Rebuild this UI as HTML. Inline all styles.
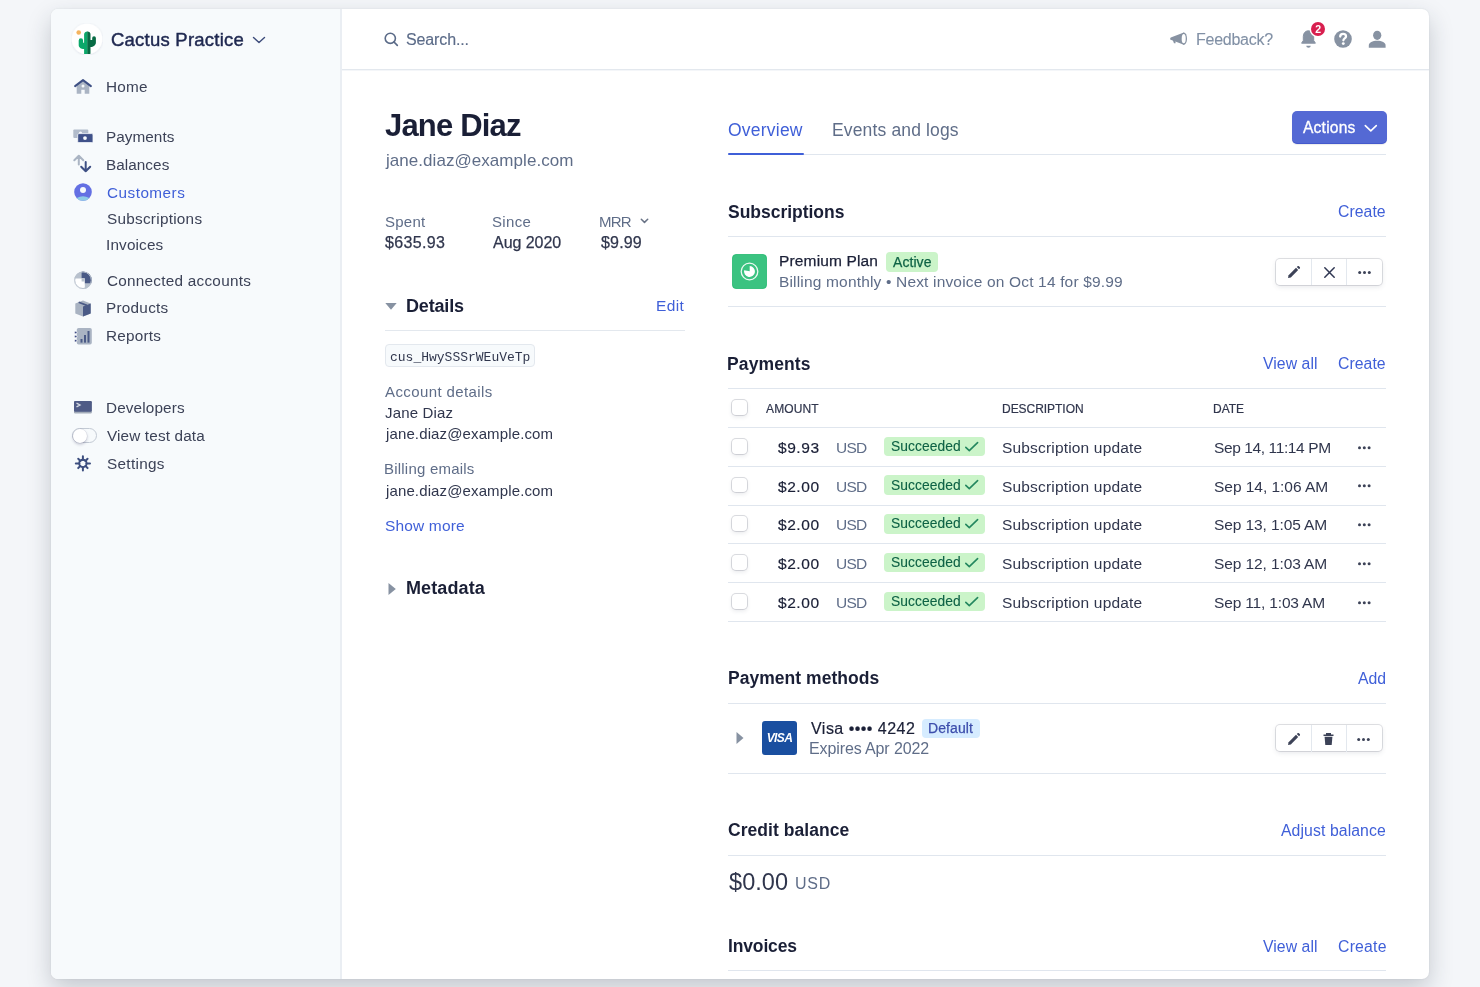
<!DOCTYPE html>
<html><head><meta charset="utf-8"><title>Jane Diaz</title>
<style>
html,body{margin:0;padding:0;}
body{width:1480px;height:987px;overflow:hidden;position:relative;background:#f4f6f9;font-family:"Liberation Sans",sans-serif;}
.t{position:absolute;white-space:nowrap;will-change:transform;}
.a{position:absolute;}
</style></head><body>
<!-- window -->
<div class=a style="left:51px;top:9px;width:1378px;height:970px;border-radius:7px;background:#fff;box-shadow:0 10px 24px rgba(30,40,60,0.22),0 0 2px rgba(30,40,60,0.1);overflow:hidden;">
  <div class=a style="left:0;top:0;width:289px;height:970px;background:#f7fafc;border-right:2px solid #eaeef3;"></div>
  <div class=a style="left:291px;top:60px;width:1087px;height:1px;background:#e3e8ee;"></div>
  <div class=a style="left:291px;top:61px;width:1087px;height:1px;background:#f4f6f9;"></div>
</div>

<!-- logo -->
<svg class=a style="left:71px;top:23px" width="32" height="32" viewBox="0 0 32 32">
  <defs><filter id="ls" x="-20%" y="-20%" width="140%" height="140%"><feDropShadow dx="0" dy="0.5" stdDeviation="0.8" flood-color="#32325d" flood-opacity="0.12"/></filter>
  <clipPath id="lc"><circle cx="16" cy="16" r="15.3"/></clipPath></defs>
  <circle cx="16" cy="16" r="15.3" fill="#fff" filter="url(#ls)"/>
  <g clip-path="url(#lc)">
  <circle cx="7.7" cy="9.5" r="2.3" fill="#f5b45f"/>
  <path d="M7.7 17.4 A2.2 2.2 0 0 1 12.1 17.4 V19.8 H13.1 V11.6 A3.2 3.2 0 0 1 16.6 8.4 V31 H13.1 V26 C10 26 7.7 24.5 7.7 22 Z" fill="#0ba86a"/>
  <path d="M16.3 8.4 A3.2 3.2 0 0 1 19.5 11.6 V16.9 H21.2 V15 A1.85 1.85 0 0 1 24.9 15 V19.5 C24.9 22 22.5 24 19.5 24 V31 H16.3 Z" fill="#086b44"/>
  </g>
</svg>
<!-- chevron -->
<svg class=a style="left:252px;top:35px" width="14" height="10" viewBox="0 0 14 10"><path d="M1.5 2.5 L7 7.5 L12.5 2.5" fill="none" stroke="#3c4b7a" stroke-width="1.4" stroke-linecap="round" stroke-linejoin="round"/></svg>

<!-- sidebar icons -->
<svg class=a style="left:73px;top:78px" width="20" height="18" viewBox="0 0 20 18">
  <path d="M3.7 7 L10 2.3 L16.3 7 V15.8 H11.7 V11.8 H8.3 V15.8 H3.7 Z" fill="#aab4c3"/>
  <path d="M2.1 8.1 L10 2.1 L17.9 8.1" fill="none" stroke="#3e5084" stroke-width="2" stroke-linecap="round" stroke-linejoin="round"/>
  <circle cx="10" cy="7.9" r="1.5" fill="#f7fafc"/>
</svg>
<svg class=a style="left:72px;top:128px" width="22" height="16" viewBox="0 0 22 16">
  <rect x="1.3" y="1.5" width="15" height="8.5" rx="1" fill="#b2bccb"/>
  <circle cx="8.5" cy="5" r="1.6" fill="#f7fafc"/>
  <rect x="5.7" y="5.6" width="15.3" height="9" rx="1.2" fill="#3f5189" stroke="#f7fafc" stroke-width="0.8"/>
  <circle cx="13" cy="10.1" r="1.9" fill="#f7fafc"/>
</svg>
<svg class=a style="left:72px;top:153px" width="22" height="21" viewBox="0 0 22 21">
  <path d="M6.8 11.5 V3 M2.3 7.3 L6.8 2.8 L11.3 7.3" fill="none" stroke="#aab4c3" stroke-width="2" stroke-linecap="round" stroke-linejoin="round"/>
  <path d="M13.7 9 V18.3 M9.2 13.8 L13.7 18.3 L18.2 13.8" fill="none" stroke="#3e5084" stroke-width="2" stroke-linecap="round" stroke-linejoin="round"/>
</svg>
<svg class=a style="left:73px;top:182px" width="20" height="20" viewBox="0 0 20 20">
  <defs><clipPath id="cc"><circle cx="10" cy="10" r="8.8"/></clipPath></defs>
  <circle cx="10" cy="10" r="8.8" fill="#6470e3"/>
  <g clip-path="url(#cc)"><ellipse cx="10" cy="19.5" rx="8" ry="5.2" fill="#8fcbe6"/></g>
  <circle cx="10" cy="8" r="3" fill="#f7fafc"/>
</svg>
<svg class=a style="left:73px;top:271px" width="20" height="20" viewBox="0 0 20 20">
  <defs><clipPath id="ca"><circle cx="10" cy="9.2" r="8.8"/></clipPath></defs>
  <circle cx="10" cy="9.2" r="8.8" fill="#b8c1cd"/>
  <g clip-path="url(#ca)">
    <path d="M8.6 0 H20 V12.2 H11.6 V7.2 H8.6 Z" fill="#4a5a86"/>
    <path d="M-1 7.6 H11.6 V9.8 C11.6 13.5 12.5 15.5 11 20 H-1 Z" fill="#fff"/>
    <path d="M8.6 7.2 H11.6 V10.5 H8.6 Z" fill="#b8c1cd"/>
  </g>
  <circle cx="10" cy="9.2" r="8.3" fill="none" stroke="#b8c1cd" stroke-width="1"/>
</svg>
<svg class=a style="left:74px;top:299px" width="18" height="19" viewBox="0 0 18 19">
  <path d="M1.3 4.5 L9 1.5 L16.7 4.5 V14.5 L9 17.5 L1.3 14.5 Z" fill="#a9b3c2"/>
  <path d="M9 7.5 L16.7 4.5 V14.5 L9 17.5 Z" fill="#4a5a86"/>
  <path d="M4.7 3.2 L12.3 6.1 V8" fill="none" stroke="#4a5a86" stroke-width="1.7"/>
</svg>
<svg class=a style="left:73px;top:327px" width="20" height="19" viewBox="0 0 20 19">
  <rect x="3.8" y="1" width="15" height="16.6" rx="1.8" fill="#aab4c3"/>
  <circle cx="2.7" cy="5.5" r="1.3" fill="#3e4c85" stroke="#fff" stroke-width="0.7"/>
  <circle cx="2.7" cy="9.5" r="1.3" fill="#3e4c85" stroke="#fff" stroke-width="0.7"/>
  <circle cx="2.7" cy="13.7" r="1.3" fill="#3e4c85" stroke="#fff" stroke-width="0.7"/>
  <rect x="7.5" y="12" width="2" height="3.6" fill="#4a5a86"/>
  <rect x="11" y="8" width="2" height="7.6" fill="#4a5a86"/>
  <rect x="14.5" y="4" width="2" height="11.6" fill="#4a5a86"/>
</svg>
<svg class=a style="left:73px;top:400px" width="20" height="15" viewBox="0 0 20 15">
  <rect x="1" y="1" width="17.8" height="12.5" rx="1.2" fill="#a3acb9"/>
  <rect x="1" y="1" width="17.8" height="10.8" rx="1.2" fill="#4f5b86"/>
  <path d="M3.5 3.2 L7 5 L3.5 6.8" fill="none" stroke="#d5dae3" stroke-width="1.3"/>
</svg>
<div class=a style="left:72px;top:428px;width:23px;height:13px;border-radius:8px;border:1px solid #c3cad4;background:#f7fafc;"></div>
<div class=a style="left:72.5px;top:428.5px;width:14px;height:14px;border-radius:50%;background:#fff;box-shadow:0 1.5px 3px rgba(50,50,93,0.28),0 0 0 0.5px rgba(50,50,93,0.12);"></div>
<svg class=a style="left:73px;top:454px" width="20" height="19" viewBox="0 0 20 19">
  <path d="M13.40 9.40 L17.00 9.40 M12.37 11.87 L14.57 14.07 M9.90 12.90 L9.90 16.50 M7.43 11.87 L5.23 14.07 M6.40 9.40 L2.80 9.40 M7.43 6.93 L5.23 4.73 M9.90 5.90 L9.90 2.30 M12.37 6.93 L14.57 4.73 " stroke="#3d4e7f" stroke-width="2" stroke-linecap="round"/>
  <circle cx="9.9" cy="9.4" r="3.7" fill="none" stroke="#3d4e7f" stroke-width="1.9"/>
</svg>

<!-- header icons -->
<svg class=a style="left:383px;top:31px" width="16" height="16" viewBox="0 0 16 16">
  <circle cx="7.3" cy="7.3" r="5.1" fill="none" stroke="#5b6b88" stroke-width="1.6"/>
  <path d="M11 11 L14.3 14.3" stroke="#5b6b88" stroke-width="1.7" stroke-linecap="round"/>
</svg>
<svg class=a style="left:1165px;top:27px" width="28" height="23" viewBox="0 0 28 23">
  <path d="M5.2 11.65 C5.2 10.9 5.7 10.5 6.4 10.3 L18.9 5.5 V17.8 L6.4 13 C5.7 12.8 5.2 12.4 5.2 11.65 Z" fill="#8792a2"/>
  <path d="M7.6 12.6 L9 16.2 H10.6 L10.4 13.4 Z" fill="#8792a2"/>
  <ellipse cx="18.9" cy="11.65" rx="3.1" ry="6.25" fill="#8792a2"/>
  <ellipse cx="18.7" cy="11.65" rx="2.0" ry="4.6" fill="#fff"/>
</svg>
<svg class=a style="left:1300px;top:29px" width="17" height="20" viewBox="0 0 17 20">
  <path d="M8.5 1.8 C5.2 1.8 3.3 4.4 3.3 7.5 V11.5 L1.6 14.2 H15.4 L13.7 11.5 V7.5 C13.7 4.4 11.8 1.8 8.5 1.8 Z" fill="#8792a2" stroke="#8792a2" stroke-width="1" stroke-linejoin="round"/>
  <path d="M6.3 16.8 H10.7 C10.7 18 9.8 18.7 8.5 18.7 C7.2 18.7 6.3 18 6.3 16.8 Z" fill="#8792a2"/>
</svg>
<div class=a style="left:1310.7px;top:21.9px;width:14.2px;height:14.2px;border-radius:50%;background:#d81f4f;box-shadow:0 0 0 1.5px #fff;"></div>
<div class=t style="left:1310.8px;top:23px;width:14.2px;text-align:center;font-size:10.5px;line-height:12px;font-weight:700;color:#fff;">2</div>
<svg class=a style="left:1333px;top:29px" width="20" height="20" viewBox="0 0 20 20">
  <circle cx="10" cy="10" r="8.8" fill="#8792a2"/>
  <path d="M7.2 7.6 C7.2 5.9 8.4 4.9 10.1 4.9 C11.8 4.9 13 5.9 13 7.4 C13 9.3 10.4 9.4 10.4 11.3" fill="none" stroke="#fff" stroke-width="2.3" stroke-linecap="round"/>
  <circle cx="10.3" cy="14.6" r="1.45" fill="#fff"/>
</svg>
<svg class=a style="left:1367px;top:29px" width="20" height="20" viewBox="0 0 20 20">
  <ellipse cx="10.2" cy="6.3" rx="4.1" ry="4.6" fill="#8792a2"/>
  <path d="M1.8 18.8 V16.4 C1.8 13.6 5.5 11.8 10.2 11.8 C14.9 11.8 18.6 13.6 18.6 16.4 V18.8 Z" fill="#8792a2"/>
</svg>

<!-- left column shapes -->
<svg class=a style="left:600px;top:215px" width="10" height="10" viewBox="0 0 10 10"></svg>
<svg class=a style="left:640px;top:217px" width="9" height="8" viewBox="0 0 9 8"><path d="M1.3 2.2 L4.5 5.4 L7.7 2.2" fill="none" stroke="#697386" stroke-width="1.5" stroke-linecap="round" stroke-linejoin="round"/></svg>
<svg class=a style="left:384px;top:302px" width="14" height="10" viewBox="0 0 14 10"><path d="M1.3 1 H12.7 L7 7.8 Z" fill="#8792a2"/></svg>
<div class=a style="left:385px;top:330px;width:300px;height:1px;background:#e3e8ee;"></div>
<div class=a style="left:385px;top:344px;width:148px;height:21px;border:1px solid #e3e8ee;border-radius:4px;background:#f7fafc;"></div>
<svg class=a style="left:387px;top:582px" width="10" height="14" viewBox="0 0 10 14"><path d="M1.5 1 V13 L8.8 7 Z" fill="#8792a2"/></svg>

<!-- tabs -->
<div class=a style="left:728px;top:154px;width:658px;height:1px;background:#e0e6ee;"></div>
<div class=a style="left:728px;top:153px;width:76px;height:2px;background:#3f5fd8;border-radius:1px;"></div>
<div class=a style="left:1292px;top:111px;width:95px;height:32.7px;border-radius:5px;background:#5469d4;box-shadow:inset 0 -1px 0 rgba(40,60,190,0.35),0 1px 1px rgba(0,0,0,0.08);"></div>
<svg class=a style="left:1362px;top:122px" width="17" height="12" viewBox="0 0 17 12"><path d="M3.3 3.6 L8.8 8.9 L14.3 3.6" fill="none" stroke="#fff" stroke-width="1.6" stroke-linecap="round" stroke-linejoin="round"/></svg>

<!-- subscriptions -->
<div class=a style="left:728px;top:236px;width:658px;height:1px;background:#e0e6ee;"></div>
<div class=a style="left:728px;top:306px;width:658px;height:1px;background:#e0e6ee;"></div>
<svg class=a style="left:732px;top:254px" width="35" height="35" viewBox="0 0 35 35">
  <rect x="0.5" y="0.5" width="34" height="34" rx="3.5" fill="#3bc381" stroke="#22b96e" stroke-width="0.8"/>
  <circle cx="17.5" cy="17.5" r="8.3" fill="none" stroke="#fff" stroke-opacity="0.9" stroke-width="1.3"/>
  <path d="M17.7 17.3 V12 A5.5 5.5 0 1 1 12.1 16.3 Z" fill="#fff"/>
</svg>
<div class=a style="left:886px;top:252px;width:52px;height:20px;border-radius:4px;background:#cbf4c9;"></div>

<div class=a style="left:1276px;top:258.7px;width:106px;height:26.5px;border-radius:4px;background:#fff;box-shadow:0 0 0 1px rgba(60,66,87,0.16),0 2px 5px rgba(60,66,87,0.12);"></div>
<div class=a style="left:1311px;top:258.7px;width:1px;height:26.5px;background:#e3e8ee;"></div>
<div class=a style="left:1346px;top:258.7px;width:1px;height:26.5px;background:#e3e8ee;"></div>
<svg class=a style="left:1285px;top:264px" width="17" height="17" viewBox="0 0 17 17">
  <path d="M3 14 L3.6 11.2 L11 3.8 L13.2 6 L5.8 13.4 Z" fill="#3c4257"/>
  <path d="M11.8 3 L12.6 2.2 C13 1.8 13.5 1.8 13.9 2.2 L14.8 3.1 C15.2 3.5 15.2 4 14.8 4.4 L14 5.2 Z" fill="#3c4257"/>
</svg>
<svg class=a style="left:1320.5px;top:264px" width="17" height="17" viewBox="0 0 17 17">
  <path d="M3.8 3.8 L13.2 13.2 M13.2 3.8 L3.8 13.2" stroke="#2f3652" stroke-width="1.5" stroke-linecap="round"/>
</svg>
<svg class=a style="left:1356px;top:264px" width="17" height="17" viewBox="0 0 17 17">
  <circle cx="3.7" cy="8.5" r="1.5" fill="#3c4257"/><circle cx="8.5" cy="8.5" r="1.5" fill="#3c4257"/><circle cx="13.3" cy="8.5" r="1.5" fill="#3c4257"/>
</svg>

<!-- payments -->
<div class=a style="left:728px;top:388px;width:658px;height:1px;background:#e0e6ee;"></div>
<div class=a style="left:728px;top:427px;width:658px;height:1px;background:#e0e6ee;"></div>
<div class=a style="left:728px;top:466px;width:658px;height:1px;background:#e0e6ee;"></div>
<div class=a style="left:728px;top:505px;width:658px;height:1px;background:#e0e6ee;"></div>
<div class=a style="left:728px;top:543px;width:658px;height:1px;background:#e0e6ee;"></div>
<div class=a style="left:728px;top:582px;width:658px;height:1px;background:#e0e6ee;"></div>
<div class=a style="left:728px;top:621px;width:658px;height:1px;background:#e0e6ee;"></div>

<!-- payment methods -->
<div class=a style="left:728px;top:703px;width:658px;height:1px;background:#e0e6ee;"></div>
<div class=a style="left:728px;top:773px;width:658px;height:1px;background:#e0e6ee;"></div>
<svg class=a style="left:735px;top:731px" width="10" height="14" viewBox="0 0 10 14"><path d="M1.5 1 V13 L8.5 7 Z" fill="#8792a2"/></svg>
<div class=a style="left:762px;top:721px;width:35px;height:34px;border-radius:3px;background:#1a4fa0;"></div>
<div class=t style="left:762px;top:731px;width:35px;text-align:center;font-size:12px;line-height:14px;font-weight:700;font-style:italic;color:#fff;letter-spacing:-0.6px;">VISA</div>
<div class=a style="left:921.5px;top:719px;width:58px;height:19px;border-radius:4px;background:#d6ecff;"></div>
<div class=a style="left:1276px;top:724.7px;width:106px;height:26.5px;border-radius:4px;background:#fff;box-shadow:0 0 0 1px rgba(60,66,87,0.16),0 2px 5px rgba(60,66,87,0.12);"></div>
<div class=a style="left:1311px;top:724.5px;width:1px;height:27px;background:#e3e8ee;"></div>
<div class=a style="left:1346px;top:724.5px;width:1px;height:27px;background:#e3e8ee;"></div>
<svg class=a style="left:1285px;top:730.5px" width="17" height="17" viewBox="0 0 17 17">
  <path d="M3 14 L3.6 11.2 L11 3.8 L13.2 6 L5.8 13.4 Z" fill="#3c4257"/>
  <path d="M11.8 3 L12.6 2.2 C13 1.8 13.5 1.8 13.9 2.2 L14.8 3.1 C15.2 3.5 15.2 4 14.8 4.4 L14 5.2 Z" fill="#3c4257"/>
</svg>
<svg class=a style="left:1320px;top:730.5px" width="17" height="17" viewBox="0 0 17 17">
  <path d="M3.5 4.3 H13.5 M6.8 4 V2.8 H10.2 V4" fill="none" stroke="#3c4257" stroke-width="1.6"/>
  <path d="M4.6 5.8 H12.4 L11.7 14 H5.3 Z" fill="#3c4257"/>
</svg>
<svg class=a style="left:1355px;top:730.5px" width="17" height="17" viewBox="0 0 17 17">
  <circle cx="3.7" cy="8.5" r="1.5" fill="#3c4257"/><circle cx="8.5" cy="8.5" r="1.5" fill="#3c4257"/><circle cx="13.3" cy="8.5" r="1.5" fill="#3c4257"/>
</svg>
<div class=a style="left:728px;top:855px;width:658px;height:1px;background:#e0e6ee;"></div>
<div class=a style="left:728px;top:970px;width:658px;height:1px;background:#e0e6ee;"></div>
<div class=a style="left:732px;top:399.80px;width:15.2px;height:14.8px;border-radius:4px;background:#fff;box-shadow:0 0 0 1px rgba(60,66,87,0.18),0 2px 4px rgba(60,66,87,0.12);"></div>
<div class=a style="left:732px;top:438.80px;width:15.2px;height:14.8px;border-radius:4px;background:#fff;box-shadow:0 0 0 1px rgba(60,66,87,0.18),0 2px 4px rgba(60,66,87,0.12);"></div>
<div class=a style="left:732px;top:477.60px;width:15.2px;height:14.8px;border-radius:4px;background:#fff;box-shadow:0 0 0 1px rgba(60,66,87,0.18),0 2px 4px rgba(60,66,87,0.12);"></div>
<div class=a style="left:732px;top:516.30px;width:15.2px;height:14.8px;border-radius:4px;background:#fff;box-shadow:0 0 0 1px rgba(60,66,87,0.18),0 2px 4px rgba(60,66,87,0.12);"></div>
<div class=a style="left:732px;top:555.10px;width:15.2px;height:14.8px;border-radius:4px;background:#fff;box-shadow:0 0 0 1px rgba(60,66,87,0.18),0 2px 4px rgba(60,66,87,0.12);"></div>
<div class=a style="left:732px;top:593.80px;width:15.2px;height:14.8px;border-radius:4px;background:#fff;box-shadow:0 0 0 1px rgba(60,66,87,0.18),0 2px 4px rgba(60,66,87,0.12);"></div>
<div class=a style="left:884px;top:436.70px;width:100.5px;height:19.4px;border-radius:4px;background:#cbf4c9;"></div>
<svg class=a style="left:963px;top:438.70px" width="17" height="15" viewBox="0 0 17 15"><path d="M2.8 8.3 L6.3 11.6 L14.6 3.6" fill="none" stroke="#24875f" stroke-width="1.6" stroke-linecap="round" stroke-linejoin="round"/></svg>
<svg class=a style="left:1356px;top:439.70px" width="17" height="15" viewBox="0 0 17 15"><circle cx="3.5" cy="7.8" r="1.5" fill="#3c4257"/><circle cx="8.3" cy="7.8" r="1.5" fill="#3c4257"/><circle cx="13.1" cy="7.8" r="1.5" fill="#3c4257"/></svg>
<div class=a style="left:884px;top:475.45px;width:100.5px;height:19.4px;border-radius:4px;background:#cbf4c9;"></div>
<svg class=a style="left:963px;top:477.45px" width="17" height="15" viewBox="0 0 17 15"><path d="M2.8 8.3 L6.3 11.6 L14.6 3.6" fill="none" stroke="#24875f" stroke-width="1.6" stroke-linecap="round" stroke-linejoin="round"/></svg>
<svg class=a style="left:1356px;top:478.45px" width="17" height="15" viewBox="0 0 17 15"><circle cx="3.5" cy="7.8" r="1.5" fill="#3c4257"/><circle cx="8.3" cy="7.8" r="1.5" fill="#3c4257"/><circle cx="13.1" cy="7.8" r="1.5" fill="#3c4257"/></svg>
<div class=a style="left:884px;top:514.20px;width:100.5px;height:19.4px;border-radius:4px;background:#cbf4c9;"></div>
<svg class=a style="left:963px;top:516.20px" width="17" height="15" viewBox="0 0 17 15"><path d="M2.8 8.3 L6.3 11.6 L14.6 3.6" fill="none" stroke="#24875f" stroke-width="1.6" stroke-linecap="round" stroke-linejoin="round"/></svg>
<svg class=a style="left:1356px;top:517.20px" width="17" height="15" viewBox="0 0 17 15"><circle cx="3.5" cy="7.8" r="1.5" fill="#3c4257"/><circle cx="8.3" cy="7.8" r="1.5" fill="#3c4257"/><circle cx="13.1" cy="7.8" r="1.5" fill="#3c4257"/></svg>
<div class=a style="left:884px;top:552.95px;width:100.5px;height:19.4px;border-radius:4px;background:#cbf4c9;"></div>
<svg class=a style="left:963px;top:554.95px" width="17" height="15" viewBox="0 0 17 15"><path d="M2.8 8.3 L6.3 11.6 L14.6 3.6" fill="none" stroke="#24875f" stroke-width="1.6" stroke-linecap="round" stroke-linejoin="round"/></svg>
<svg class=a style="left:1356px;top:555.95px" width="17" height="15" viewBox="0 0 17 15"><circle cx="3.5" cy="7.8" r="1.5" fill="#3c4257"/><circle cx="8.3" cy="7.8" r="1.5" fill="#3c4257"/><circle cx="13.1" cy="7.8" r="1.5" fill="#3c4257"/></svg>
<div class=a style="left:884px;top:591.70px;width:100.5px;height:19.4px;border-radius:4px;background:#cbf4c9;"></div>
<svg class=a style="left:963px;top:593.70px" width="17" height="15" viewBox="0 0 17 15"><path d="M2.8 8.3 L6.3 11.6 L14.6 3.6" fill="none" stroke="#24875f" stroke-width="1.6" stroke-linecap="round" stroke-linejoin="round"/></svg>
<svg class=a style="left:1356px;top:594.70px" width="17" height="15" viewBox="0 0 17 15"><circle cx="3.5" cy="7.8" r="1.5" fill="#3c4257"/><circle cx="8.3" cy="7.8" r="1.5" fill="#3c4257"/><circle cx="13.1" cy="7.8" r="1.5" fill="#3c4257"/></svg>

<div class=t style="top:31.00px;left:111.05px;font-size:18.5px;line-height:18.5px;font-weight:400;color:#1f2850;letter-spacing:0.229px;-webkit-text-stroke:0.45px #1f2850;">Cactus Practice</div>
<div class=t style="top:79.00px;left:106.15px;font-size:15.3px;line-height:15.3px;font-weight:400;color:#3c4257;letter-spacing:0.200px;">Home</div>
<div class=t style="top:129.00px;left:106.15px;font-size:15.3px;line-height:15.3px;font-weight:400;color:#3c4257;letter-spacing:0.050px;">Payments</div>
<div class=t style="top:157.00px;left:106.15px;font-size:15.3px;line-height:15.3px;font-weight:400;color:#3c4257;letter-spacing:0.050px;">Balances</div>
<div class=t style="top:185.00px;left:106.65px;font-size:15.3px;line-height:15.3px;font-weight:400;color:#3f5fd8;letter-spacing:0.481px;">Customers</div>
<div class=t style="top:211.00px;left:106.90px;font-size:15.3px;line-height:15.3px;font-weight:400;color:#3c4257;letter-spacing:0.267px;">Subscriptions</div>
<div class=t style="top:237.00px;left:106.15px;font-size:15.3px;line-height:15.3px;font-weight:400;color:#3c4257;letter-spacing:0.157px;">Invoices</div>
<div class=t style="top:273.00px;left:106.65px;font-size:15.3px;line-height:15.3px;font-weight:400;color:#3c4257;letter-spacing:0.256px;">Connected accounts</div>
<div class=t style="top:300.00px;left:106.15px;font-size:15.3px;line-height:15.3px;font-weight:400;color:#3c4257;letter-spacing:0.264px;">Products</div>
<div class=t style="top:328.00px;left:106.15px;font-size:15.3px;line-height:15.3px;font-weight:400;color:#3c4257;letter-spacing:0.217px;">Reports</div>
<div class=t style="top:400.00px;left:106.15px;font-size:15.3px;line-height:15.3px;font-weight:400;color:#3c4257;letter-spacing:0.128px;">Developers</div>
<div class=t style="top:428.00px;left:107.40px;font-size:15.3px;line-height:15.3px;font-weight:400;color:#3c4257;letter-spacing:0.146px;">View test data</div>
<div class=t style="top:456.00px;left:106.90px;font-size:15.3px;line-height:15.3px;font-weight:400;color:#3c4257;letter-spacing:0.307px;">Settings</div>
<div class=t style="top:32.00px;left:405.85px;font-size:16px;line-height:16px;font-weight:400;color:#5b6b88;letter-spacing:-0.125px;-webkit-text-stroke:0.15px #5b6b88;">Search...</div>
<div class=t style="top:32.00px;left:1196.35px;font-size:16px;line-height:16px;font-weight:400;color:#8190a5;letter-spacing:-0.262px;-webkit-text-stroke:0.1px #8190a5;">Feedback?</div>
<div class=t style="top:110.00px;left:384.95px;font-size:31px;line-height:31px;font-weight:700;color:#1a1f36;letter-spacing:-0.819px;">Jane Diaz</div>
<div class=t style="top:152.00px;left:385.50px;font-size:17px;line-height:17px;font-weight:400;color:#5f6d88;letter-spacing:0.050px;">jane.diaz@example.com</div>
<div class=t style="top:214.00px;left:384.70px;font-size:15px;line-height:15px;font-weight:400;color:#5f6d88;letter-spacing:0.263px;">Spent</div>
<div class=t style="top:214.00px;left:492.10px;font-size:15px;line-height:15px;font-weight:400;color:#5f6d88;letter-spacing:0.350px;">Since</div>
<div class=t style="top:214.00px;left:599.00px;font-size:15px;line-height:15px;font-weight:400;color:#5f6d88;letter-spacing:-0.750px;">MRR</div>
<div class=t style="top:235.00px;left:385.20px;font-size:16px;line-height:16px;font-weight:400;color:#30364d;letter-spacing:0.358px;-webkit-text-stroke:0.25px #30364d;">$635.93</div>
<div class=t style="top:235.00px;left:492.60px;font-size:16px;line-height:16px;font-weight:400;color:#30364d;letter-spacing:-0.043px;-webkit-text-stroke:0.25px #30364d;">Aug 2020</div>
<div class=t style="top:235.00px;left:600.50px;font-size:16px;line-height:16px;font-weight:400;color:#30364d;letter-spacing:0.175px;-webkit-text-stroke:0.25px #30364d;">$9.99</div>
<div class=t style="top:297.00px;left:405.90px;font-size:18px;line-height:18px;font-weight:700;color:#1a1f36;letter-spacing:-0.167px;">Details</div>
<div class=t style="top:298.00px;left:656.45px;font-size:15.5px;line-height:15.5px;font-weight:400;color:#3f5fd8;letter-spacing:0.367px;">Edit</div>
<div class=t style="top:351.00px;left:390.15px;font-size:13px;line-height:13px;font-weight:400;color:#30364d;font-family:'Liberation Mono',monospace;">cus_HwySSSrWEuVeTp</div>
<div class=t style="top:384.00px;left:385.00px;font-size:15px;line-height:15px;font-weight:400;color:#5f6d88;letter-spacing:0.396px;">Account details</div>
<div class=t style="top:405.00px;left:384.75px;font-size:15px;line-height:15px;font-weight:400;color:#30364d;letter-spacing:0.156px;">Jane Diaz</div>
<div class=t style="top:426.00px;left:385.50px;font-size:15px;line-height:15px;font-weight:400;color:#30364d;letter-spacing:0.127px;">jane.diaz@example.com</div>
<div class=t style="top:461.00px;left:384.00px;font-size:15px;line-height:15px;font-weight:400;color:#5f6d88;letter-spacing:0.212px;">Billing emails</div>
<div class=t style="top:483.00px;left:385.50px;font-size:15px;line-height:15px;font-weight:400;color:#30364d;letter-spacing:0.127px;">jane.diaz@example.com</div>
<div class=t style="top:518.00px;left:384.50px;font-size:15.5px;line-height:15.5px;font-weight:400;color:#3f5fd8;letter-spacing:0.156px;">Show more</div>
<div class=t style="top:579.00px;left:406.00px;font-size:18px;line-height:18px;font-weight:700;color:#1a1f36;letter-spacing:0.107px;">Metadata</div>
<div class=t style="top:122.00px;left:727.65px;font-size:17.5px;line-height:17.5px;font-weight:400;color:#3f5fd8;letter-spacing:0.221px;">Overview</div>
<div class=t style="top:122.00px;left:832.15px;font-size:17.5px;line-height:17.5px;font-weight:400;color:#5f6d88;letter-spacing:0.146px;">Events and logs</div>
<div class=t style="top:120.00px;left:1303.00px;font-size:15.6px;line-height:15.6px;font-weight:400;color:#ffffff;letter-spacing:0.208px;-webkit-text-stroke:0.3px #ffffff;">Actions</div>
<div class=t style="top:204.00px;left:727.90px;font-size:17.5px;line-height:17.5px;font-weight:700;color:#1a1f36;letter-spacing:-0.025px;">Subscriptions</div>
<div class=t style="top:204.00px;left:1338.25px;font-size:15.8px;line-height:15.8px;font-weight:400;color:#3f5fd8;letter-spacing:0.040px;">Create</div>
<div class=t style="top:253.00px;left:778.95px;font-size:15.5px;line-height:15.5px;font-weight:400;color:#1a1f36;letter-spacing:0.150px;-webkit-text-stroke:0.25px #1a1f36;">Premium Plan</div>
<div class=t style="top:255.00px;left:893.20px;font-size:14px;line-height:14px;font-weight:400;color:#0e6245;letter-spacing:0.060px;-webkit-text-stroke:0.25px #0e6245;">Active</div>
<div class=t style="top:274.00px;left:778.95px;font-size:15.5px;line-height:15.5px;font-weight:400;color:#5f6d88;letter-spacing:0.169px;">Billing monthly • Next invoice on Oct 14 for $9.99</div>
<div class=t style="top:356.00px;left:727.20px;font-size:17.5px;line-height:17.5px;font-weight:700;color:#1a1f36;letter-spacing:0.114px;">Payments</div>
<div class=t style="top:356.00px;left:1263.20px;font-size:15.8px;line-height:15.8px;font-weight:400;color:#3f5fd8;letter-spacing:0.050px;">View all</div>
<div class=t style="top:356.00px;left:1338.35px;font-size:15.8px;line-height:15.8px;font-weight:400;color:#3f5fd8;letter-spacing:0.040px;">Create</div>
<div class=t style="top:403.00px;left:765.55px;font-size:12px;line-height:12px;font-weight:400;color:#30364d;letter-spacing:0.130px;-webkit-text-stroke:0.2px #30364d;">AMOUNT</div>
<div class=t style="top:403.00px;left:1001.55px;font-size:12px;line-height:12px;font-weight:400;color:#30364d;letter-spacing:-0.040px;-webkit-text-stroke:0.2px #30364d;">DESCRIPTION</div>
<div class=t style="top:403.00px;left:1213.25px;font-size:12px;line-height:12px;font-weight:400;color:#30364d;-webkit-text-stroke:0.2px #30364d;">DATE</div>
<div class=t style="top:440.00px;left:777.50px;font-size:15.5px;line-height:15.5px;font-weight:400;color:#1a1f36;letter-spacing:0.562px;-webkit-text-stroke:0.2px #1a1f36;">$9.93</div>
<div class=t style="top:440.00px;left:835.50px;font-size:15.5px;line-height:15.5px;font-weight:400;color:#5f6d88;letter-spacing:-0.800px;">USD</div>
<div class=t style="top:440.00px;left:890.70px;font-size:13.8px;line-height:13.8px;font-weight:400;color:#0e6245;letter-spacing:0.094px;-webkit-text-stroke:0.12px #0e6245;">Succeeded</div>
<div class=t style="top:440.00px;left:1002.00px;font-size:15.5px;line-height:15.5px;font-weight:400;color:#30364d;letter-spacing:0.172px;">Subscription update</div>
<div class=t style="top:440.00px;left:1213.50px;font-size:15.5px;line-height:15.5px;font-weight:400;color:#30364d;letter-spacing:-0.390px;">Sep 14, 11:14 PM</div>
<div class=t style="top:479.00px;left:777.50px;font-size:15.5px;line-height:15.5px;font-weight:400;color:#1a1f36;letter-spacing:0.562px;-webkit-text-stroke:0.2px #1a1f36;">$2.00</div>
<div class=t style="top:479.00px;left:835.50px;font-size:15.5px;line-height:15.5px;font-weight:400;color:#5f6d88;letter-spacing:-0.800px;">USD</div>
<div class=t style="top:479.00px;left:890.70px;font-size:13.8px;line-height:13.8px;font-weight:400;color:#0e6245;letter-spacing:0.094px;-webkit-text-stroke:0.12px #0e6245;">Succeeded</div>
<div class=t style="top:479.00px;left:1002.00px;font-size:15.5px;line-height:15.5px;font-weight:400;color:#30364d;letter-spacing:0.172px;">Subscription update</div>
<div class=t style="top:479.00px;left:1213.50px;font-size:15.5px;line-height:15.5px;font-weight:400;color:#30364d;letter-spacing:-0.036px;">Sep 14, 1:06 AM</div>
<div class=t style="top:517.00px;left:777.50px;font-size:15.5px;line-height:15.5px;font-weight:400;color:#1a1f36;letter-spacing:0.562px;-webkit-text-stroke:0.2px #1a1f36;">$2.00</div>
<div class=t style="top:517.00px;left:835.50px;font-size:15.5px;line-height:15.5px;font-weight:400;color:#5f6d88;letter-spacing:-0.800px;">USD</div>
<div class=t style="top:517.00px;left:890.70px;font-size:13.8px;line-height:13.8px;font-weight:400;color:#0e6245;letter-spacing:0.094px;-webkit-text-stroke:0.12px #0e6245;">Succeeded</div>
<div class=t style="top:517.00px;left:1002.00px;font-size:15.5px;line-height:15.5px;font-weight:400;color:#30364d;letter-spacing:0.172px;">Subscription update</div>
<div class=t style="top:517.00px;left:1213.50px;font-size:15.5px;line-height:15.5px;font-weight:400;color:#30364d;letter-spacing:-0.100px;">Sep 13, 1:05 AM</div>
<div class=t style="top:556.00px;left:777.50px;font-size:15.5px;line-height:15.5px;font-weight:400;color:#1a1f36;letter-spacing:0.562px;-webkit-text-stroke:0.2px #1a1f36;">$2.00</div>
<div class=t style="top:556.00px;left:835.50px;font-size:15.5px;line-height:15.5px;font-weight:400;color:#5f6d88;letter-spacing:-0.800px;">USD</div>
<div class=t style="top:556.00px;left:890.70px;font-size:13.8px;line-height:13.8px;font-weight:400;color:#0e6245;letter-spacing:0.094px;-webkit-text-stroke:0.12px #0e6245;">Succeeded</div>
<div class=t style="top:556.00px;left:1002.00px;font-size:15.5px;line-height:15.5px;font-weight:400;color:#30364d;letter-spacing:0.172px;">Subscription update</div>
<div class=t style="top:556.00px;left:1213.50px;font-size:15.5px;line-height:15.5px;font-weight:400;color:#30364d;letter-spacing:-0.100px;">Sep 12, 1:03 AM</div>
<div class=t style="top:595.00px;left:777.50px;font-size:15.5px;line-height:15.5px;font-weight:400;color:#1a1f36;letter-spacing:0.562px;-webkit-text-stroke:0.2px #1a1f36;">$2.00</div>
<div class=t style="top:595.00px;left:835.50px;font-size:15.5px;line-height:15.5px;font-weight:400;color:#5f6d88;letter-spacing:-0.800px;">USD</div>
<div class=t style="top:595.00px;left:890.70px;font-size:13.8px;line-height:13.8px;font-weight:400;color:#0e6245;letter-spacing:0.094px;-webkit-text-stroke:0.12px #0e6245;">Succeeded</div>
<div class=t style="top:595.00px;left:1002.00px;font-size:15.5px;line-height:15.5px;font-weight:400;color:#30364d;letter-spacing:0.172px;">Subscription update</div>
<div class=t style="top:595.00px;left:1213.50px;font-size:15.5px;line-height:15.5px;font-weight:400;color:#30364d;letter-spacing:-0.161px;">Sep 11, 1:03 AM</div>
<div class=t style="top:670.00px;left:727.80px;font-size:17.5px;line-height:17.5px;font-weight:700;color:#1a1f36;letter-spacing:0.036px;">Payment methods</div>
<div class=t style="top:671.00px;left:1358.20px;font-size:15.8px;line-height:15.8px;font-weight:400;color:#3f5fd8;letter-spacing:0.025px;">Add</div>
<div class=t style="top:721.00px;left:810.70px;font-size:16px;line-height:16px;font-weight:400;color:#1a1f36;letter-spacing:0.469px;-webkit-text-stroke:0.2px #1a1f36;">Visa •••• 4242</div>
<div class=t style="top:721.00px;left:928.00px;font-size:14px;line-height:14px;font-weight:400;color:#3d4eac;letter-spacing:0.083px;-webkit-text-stroke:0.25px #3d4eac;">Default</div>
<div class=t style="top:741.00px;left:809.45px;font-size:16px;line-height:16px;font-weight:400;color:#5f6d88;letter-spacing:-0.113px;">Expires Apr 2022</div>
<div class=t style="top:822.00px;left:728.30px;font-size:17.5px;line-height:17.5px;font-weight:700;color:#1a1f36;letter-spacing:0.054px;">Credit balance</div>
<div class=t style="top:823.00px;left:1281.40px;font-size:15.8px;line-height:15.8px;font-weight:400;color:#3f5fd8;letter-spacing:0.085px;">Adjust balance</div>
<div class=t style="top:871.00px;left:728.55px;font-size:23.5px;line-height:23.5px;font-weight:400;color:#30364d;letter-spacing:0.062px;">$0.00</div>
<div class=t style="top:876.00px;left:795.30px;font-size:16px;line-height:16px;font-weight:400;color:#5f6d88;letter-spacing:0.775px;">USD</div>
<div class=t style="top:938.00px;left:727.80px;font-size:17.5px;line-height:17.5px;font-weight:700;color:#1a1f36;letter-spacing:-0.143px;">Invoices</div>
<div class=t style="top:939.00px;left:1262.60px;font-size:15.8px;line-height:15.8px;font-weight:400;color:#3f5fd8;letter-spacing:0.050px;">View all</div>
<div class=t style="top:939.00px;left:1337.65px;font-size:15.8px;line-height:15.8px;font-weight:400;color:#3f5fd8;letter-spacing:0.220px;">Create</div>
</body></html>
